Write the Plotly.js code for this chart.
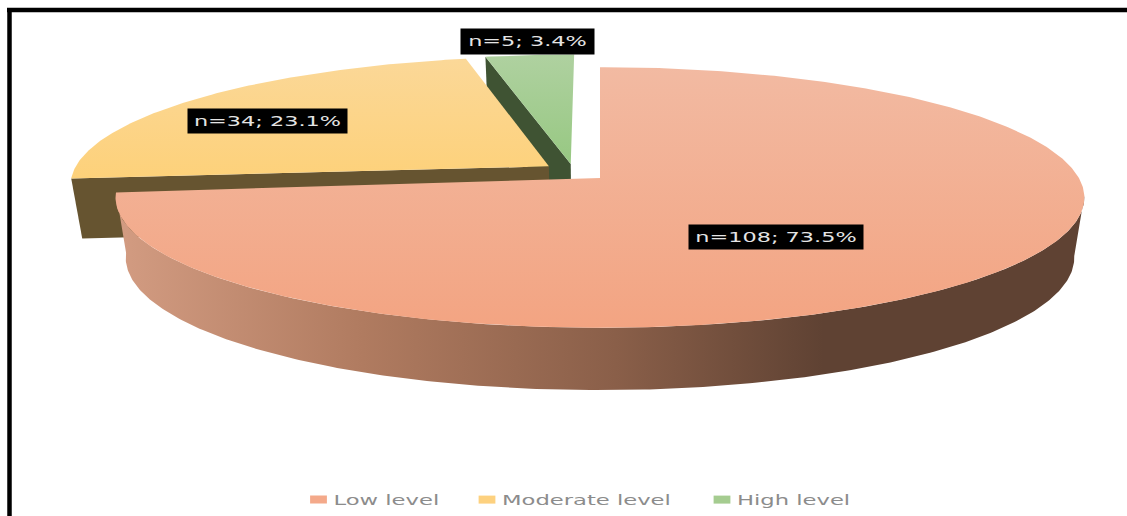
<!DOCTYPE html>
<html>
<head>
<meta charset="utf-8">
<script src="https://cdn.plot.ly/plotly-3.0.1.min.js"></script>
<style>
  html, body { margin: 0; padding: 0; background: #fff; }
  #chart { width: 1127px; height: 516px; }
  /* Wide letterforms for the labels and wide legend keys */
  .annotation-text { transform-box: fill-box; transform-origin: center; transform: scaleX(1.6); }
  .legendtext, .legend2text, .legend3text { transform-box: fill-box; transform-origin: left center; transform: translateX(-5px) scaleX(1.62); }
  .legendpoints path.scatterpts { transform: translate(20px, 0) scaleX(2.1); }
</style>
</head>
<body>
<div id="chart"></div>
<script>
// Survey result: number of respondents at each level
const categories = ['Low level', 'Moderate level', 'High level'];
const counts = [108, 34, 5];
const percents = [73.5, 23.1, 3.4];

const topColors = [
  [[0, '#F2BAA2'], [1, '#F3A482']],
  [[0, '#FBD898'], [1, '#FDD17A']],
  [[0, '#AFD1A0'], [1, '#97C882']]
];
const keyColors = ['#F4A98A', '#FDD17F', '#A5CC90'];
const radialFaceColors = [null, '#665430', '#3F5333'];
const wallStops = [[0, '#D39C82'], [0.255, '#B07B60'], [0.516, '#8A5F49'], [0.73, '#5F4233'], [1, '#5F4233']];

// Perspective of the disc: top and bottom planes, and how far each slice is pulled out
const topPlane = { cx: 600, cy: 180, R: 480, S: 128 };
const basePlane = { cx: 600, cy: 240, R: 470, S: 130 };
const tilt = 0.134;
const explode = [[0, 0], [-0.108, -0.108], [-0.062, -0.128]];
const apexLift = [-0.015, 0, 0];

function project(plane, u, v) {
  const d = 1 - tilt * v;
  return [plane.cx + plane.R * u / d, plane.cy + plane.S * v / d];
}
function rim(plane, a, off) {
  return project(plane, off[0] + Math.sin(a), off[1] - Math.cos(a));
}
function arc(plane, a0, a1, off) {
  const pts = [];
  const n = Math.max(2, Math.ceil(Math.abs(a1 - a0) / 0.01));
  for (let i = 0; i <= n; i++) pts.push(rim(plane, a0 + (a1 - a0) * i / n, off));
  return pts;
}
function polyTrace(pts, extra) {
  const closed = pts.concat([pts[0]]);
  return Object.assign({
    type: 'scatter', mode: 'lines', x: closed.map(p => p[0]), y: closed.map(p => p[1]),
    fill: 'toself', line: { width: 0 }, hoverinfo: 'skip', showlegend: false
  }, extra);
}
function topFace(i, a0, a1) {
  const apex = project(topPlane, explode[i][0], explode[i][1] + apexLift[i]);
  const pts = [apex].concat(arc(topPlane, a0, a1, explode[i]));
  const ys = pts.map(p => p[1]);
  return polyTrace(pts, { fillgradient: { type: 'vertical', colorscale: topColors[i], start: Math.min(...ys), stop: Math.max(...ys) } });
}
function radialFace(i, a) {
  const off = explode[i];
  return polyTrace([
    rim(topPlane, a, off), project(topPlane, off[0], off[1]),
    project(basePlane, off[0], off[1]), rim(basePlane, a, off)
  ], { fillcolor: radialFaceColors[i] });
}

const total = counts.reduce((s, c) => s + c, 0);
const bounds = [0];
counts.forEach((c, i) => bounds.push(bounds[i] + c / total * 2 * Math.PI));

// The outer wall of the large slice, from its right silhouette round to its left end
const wallStart = 97 * Math.PI / 180;
const wall = arc(topPlane, wallStart, bounds[1], explode[0])
  .concat(arc(basePlane, bounds[1], wallStart, explode[0]));

const traces = [
  radialFace(2, bounds[2]),
  topFace(2, bounds[2], bounds[3]),
  radialFace(1, bounds[1]),
  topFace(1, bounds[1], bounds[2]),
  polyTrace(wall, { fillgradient: { type: 'horizontal', colorscale: wallStops } }),
  topFace(0, bounds[0], bounds[1])
];

// Legend keys, one legend per entry so each can be placed along the bottom row
const legendIds = ['legend', 'legend2', 'legend3'];
categories.forEach((name, i) => traces.push({
  type: 'scatter', mode: 'markers', x: [null], y: [null], name: name, legend: legendIds[i],
  marker: { symbol: 'square', size: 8, color: keyColors[i] }, hoverinfo: 'skip', showlegend: true
}));

function legendAt(px) {
  return {
    x: px / 1127, xanchor: 'left', y: 1 - 500 / 516, yanchor: 'middle', orientation: 'h',
    bgcolor: 'rgba(0,0,0,0)', borderwidth: 0, itemwidth: 30, entrywidth: 230, entrywidthmode: 'pixels',
    font: { family: 'DejaVu Sans', size: 14, color: '#8C8C8C' }
  };
}

const labelPositions = [[776, 237], [267.5, 121], [527.5, 41.5]];
const labelBoxes = [[174, 24], [159, 24], [133, 25]];
const annotations = categories.map((_, i) => ({
  x: labelPositions[i][0], y: labelPositions[i][1], xref: 'x', yref: 'y',
  text: 'n=' + counts[i] + '; ' + percents[i].toFixed(1) + '%',
  showarrow: false, bgcolor: '#000', borderpad: 0,
  width: labelBoxes[i][0], height: labelBoxes[i][1],
  font: { family: 'DejaVu Sans', size: 14, color: '#E4E4E4' }
}));

const layout = {
  width: 1127, height: 516,
  margin: { l: 0, r: 0, t: 0, b: 0 },
  paper_bgcolor: '#fff', plot_bgcolor: '#fff',
  xaxis: { range: [0, 1127], visible: false, fixedrange: true },
  yaxis: { range: [516, 0], visible: false, fixedrange: true },
  legend: legendAt(298.5), legend2: legendAt(467), legend3: legendAt(702),
  annotations: annotations,
  shapes: [
    { type: 'line', xref: 'x', yref: 'y', x0: 9.5, x1: 9.5, y0: 8, y1: 516, line: { color: '#000', width: 4.5 } },
    { type: 'line', xref: 'x', yref: 'y', x0: 7, x1: 1127, y0: 10, y1: 10, line: { color: '#000', width: 4.5 } }
  ]
};

Plotly.newPlot('chart', traces, layout, { displayModeBar: false, staticPlot: true });
</script>
</body>
</html>
